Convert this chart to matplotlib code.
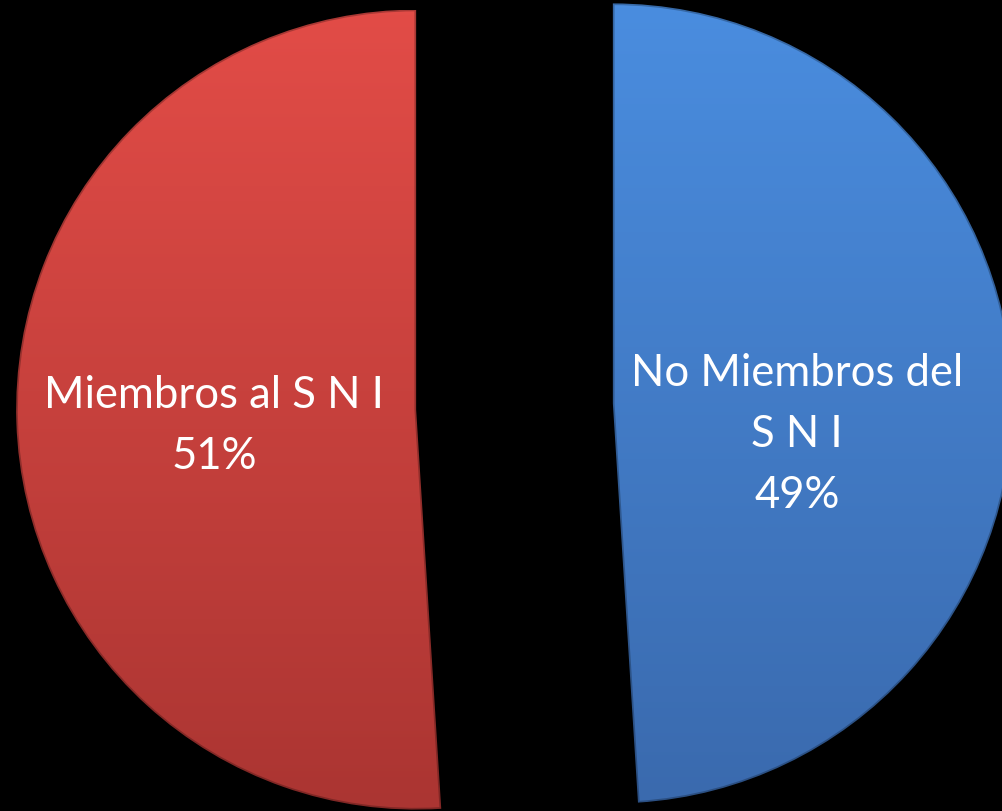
import numpy as np
import matplotlib.pyplot as plt
from matplotlib.colors import LinearSegmentedColormap

# data
labels = ["Miembros al S N I", "No Miembros del\nS N I"]
shares = [51, 49]
top_colors = ["#E24C47", "#4A8DDF"]
bottom_colors = ["#AB3532", "#3A6AAE"]
label_pos = [(-0.751, -0.046), (0.706, -0.0675)]

plt.rcParams['font.family'] = ['Lato', 'DejaVu Sans']

fig = plt.figure(figsize=(10.02, 8.12), dpi=100, facecolor="black")
ax = fig.add_axes([0, 0, 1, 1])
ax.set_facecolor("black")

wedges, _ = ax.pie(shares, startangle=90, explode=[0.246, 0.246], radius=1.0,
                   wedgeprops=dict(linewidth=0))

# vertical gradient inside every wedge, clipped to its shape
grad = np.linspace(0, 1, 256).reshape(-1, 1)
for w, c_top, c_bot in zip(wedges, top_colors, bottom_colors):
    cmap = LinearSegmentedColormap.from_list("g", [c_top, c_bot])
    cx, cy = w.center
    r = w.r
    w.set_facecolor("none")
    w.set_edgecolor((0, 0, 0, 0.25))
    w.set_linewidth(2.5)
    im = ax.imshow(grad, cmap=cmap, extent=(cx - r, cx + r, cy - r, cy + r),
                   origin="upper", aspect="auto", interpolation="bilinear", zorder=0.5)
    im.set_clip_path(w)

for lab, share, (x, y) in zip(labels, shares, label_pos):
    ax.text(x, y, f"{lab}\n{share}%", ha="center", va="center", color="white",
            fontsize=31.4, linespacing=1.62)

ax.set_xlim(-1.28625, 1.21875)
ax.set_ylim(-1.01125, 1.01875)
ax.set_aspect("auto")
ax.axis("off")

fig.savefig("out.png", dpi=100, facecolor="black")
